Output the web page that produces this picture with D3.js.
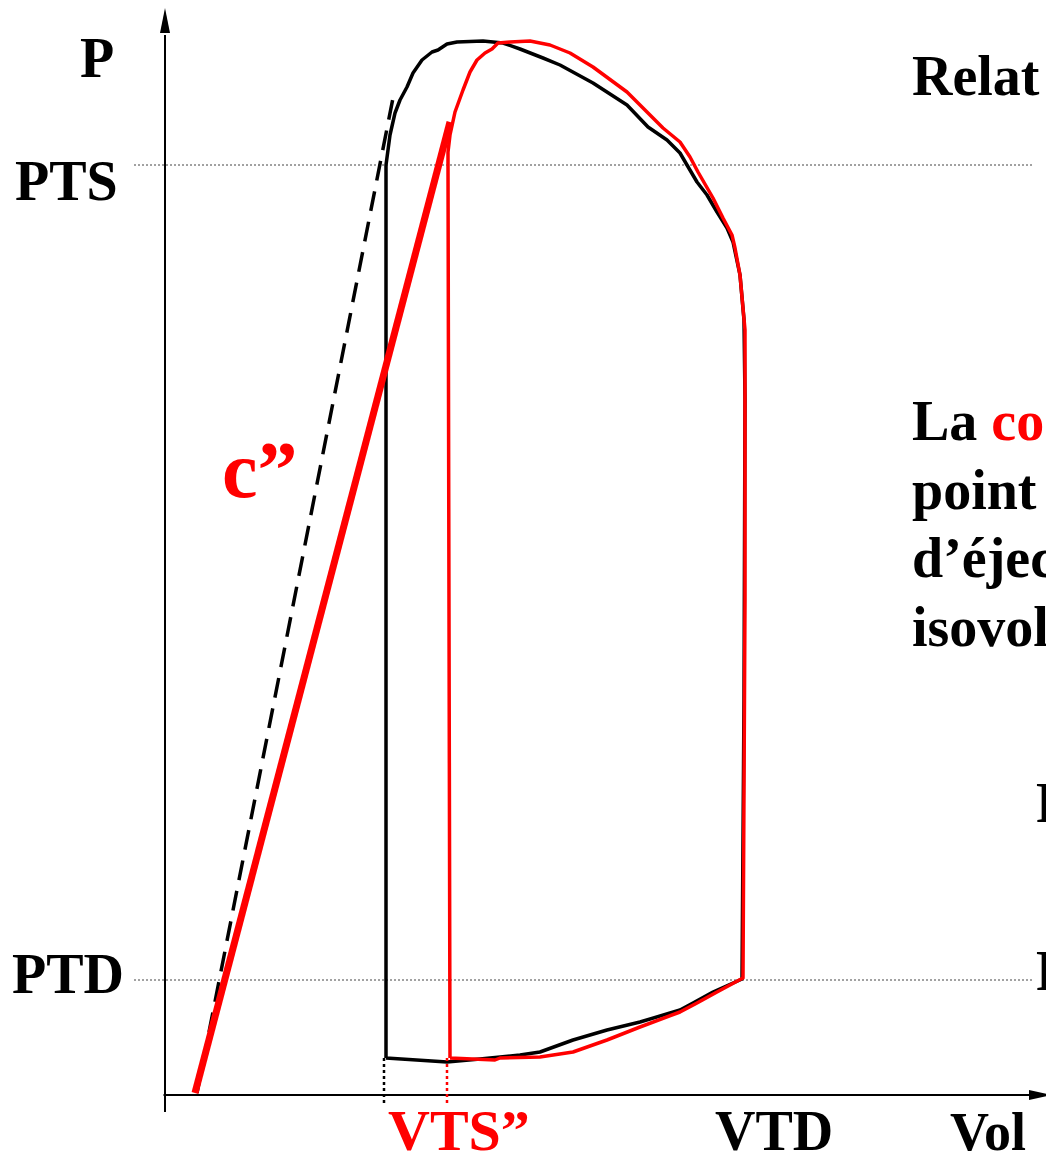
<!DOCTYPE html>
<html>
<head>
<meta charset="utf-8">
<script src="https://cdn.jsdelivr.net/npm/d3@7"></script>
<style>
  body { margin: 0; background: #fff; }
  text { font-family: "Liberation Serif", "Times New Roman", serif; font-weight: bold; }
</style>
</head>
<body>
<div id="graph"></div>
<script>
    var width = 1046,
        height = 1156;

    // loop before (black) : [volume, pressure]
    var loopBase = [
        [44.2, 3.7], [44.2, 93.0], [45.0, 96.0], [46.0, 98.2], [47.0, 99.5], [48.4, 100.8],
        [49.6, 102.2], [51.4, 103.5], [53.4, 104.3], [54.6, 104.5], [56.4, 105.1], [58.4, 105.3],
        [63.6, 105.4], [67.6, 105.2], [71.0, 104.6], [75.6, 103.7], [79.0, 103.0], [85.6, 101.2],
        [92.4, 99.0], [96.6, 96.8], [100.4, 95.5], [103.0, 94.2], [104.4, 93.0], [106.4, 91.3],
        [108.4, 90.0], [110.4, 88.3], [112.4, 86.7], [113.6, 85.3], [115.0, 82.0], [115.8, 77.5],
        [116.0, 69.5], [115.8, 39.5], [115.4, 11.6], [109.6, 10.3], [105.6, 9.2], [103.0, 8.5],
        [95.0, 7.3], [88.4, 6.5], [81.6, 5.5], [75.0, 4.3], [71.0, 4.0], [63.0, 3.6],
        [56.4, 3.3], [44.2, 3.7]
    ];

    // loop after (red)
    var loopNew = [
        [57.0, 3.7], [56.6, 93.0], [56.6, 94.3], [57.0, 96.0], [58.0, 98.3], [59.6, 100.5],
        [61.0, 102.3], [62.4, 103.5], [64.0, 104.2], [65.4, 104.6], [66.6, 105.2], [69.0, 105.3],
        [73.0, 105.4], [77.0, 105.0], [81.0, 104.2], [85.6, 102.8], [92.4, 100.3], [96.4, 98.3],
        [99.6, 96.7], [103.0, 95.3], [105.0, 93.8], [106.6, 92.3], [109.6, 89.7], [111.6, 87.7],
        [113.4, 86.0], [114.0, 84.7], [115.0, 82.0], [116.0, 76.5], [116.0, 49.5], [115.6, 11.7],
        [110.4, 10.3], [106.4, 9.2], [103.0, 8.3], [95.0, 6.8], [88.4, 5.5], [81.6, 4.3],
        [75.0, 3.8], [67.0, 3.7], [66.0, 3.5], [57.0, 3.7]
    ];

    var elastanceOld = [[6.4, 0.2], [45.6, 99.7]],   // dashed
        elastanceNew = [[6.0, 0.2], [57.0, 97.3]];   // c''

    var pts = 93.0, ptd = 11.5,
        vtsOld = 43.8, vtsNew = 56.4;

    var yLabels = [{ t: "P", p: 101.8, x: 80 }, { t: "PTS", p: 89.5, x: 15 }, { t: "PTD", p: 10.2, x: 12 }];
    var xLabels = [{ t: "VTS\u201D", v: 44.6, c: "red", s: 58 }, { t: "VTD", v: 110, c: "#000", s: 56 }, { t: "Vol", v: 157, c: "#000", s: 54 }];
    var sideLines = ["La ", "point", "d\u2019\u00e9jec", "isovol"];

    var x = d3.scaleLinear().domain([0, 176]).range([165, 1045]),
        y = d3.scaleLinear().domain([0, 108]).range([1095, 15]);

    var svg = d3.select("#graph").append("svg")
        .attr("width", width)
        .attr("height", height);

    svg.append("rect").attr("width", width).attr("height", height).attr("fill", "#fff");

    var line = d3.line()
        .x(function (d) { return x(d[0]); })
        .y(function (d) { return y(d[1]); });

    // dotted reference levels
    [pts, ptd].forEach(function (p) {
        svg.append("line")
            .attr("x1", 134).attr("x2", 1033)
            .attr("y1", y(p)).attr("y2", y(p))
            .style("stroke", "#444")
            .style("stroke-width", 1)
            .style("stroke-dasharray", "2,2");
    });

    // axes with arrow heads
    svg.append("line")
        .attr("x1", x(0)).attr("x2", x(0))
        .attr("y1", y(-1.7)).attr("y2", y(106))
        .style("stroke", "#000").style("stroke-width", 2);
    svg.append("path")
        .attr("d", "M" + x(0) + "," + y(108.7) + "l-5,25h10z")
        .attr("fill", "#000");
    svg.append("line")
        .attr("x1", x(-0.3)).attr("x2", x(174))
        .attr("y1", y(0)).attr("y2", y(0))
        .style("stroke", "#000").style("stroke-width", 2);
    svg.append("path")
        .attr("d", "M" + (x(176) + 6) + "," + y(0) + "l-22,-5v10z")
        .attr("fill", "#000");

    // dashed old elastance
    svg.append("path")
        .attr("d", line(elastanceOld))
        .attr("fill", "none")
        .style("stroke", "#000")
        .style("stroke-width", 3.5)
        .style("stroke-dasharray", "20,11");

    svg.append("path")
        .attr("d", line(loopBase))
        .attr("fill", "none")
        .style("stroke", "#000")
        .style("stroke-width", 3.5)
        .style("stroke-linejoin", "round");

    svg.append("path")
        .attr("d", line(loopNew))
        .attr("fill", "none")
        .style("stroke", "red")
        .style("stroke-width", 3.5)
        .style("stroke-linejoin", "round");

    svg.append("path")
        .attr("d", line(elastanceNew))
        .attr("fill", "none")
        .style("stroke", "red")
        .style("stroke-width", 7);

    // end systolic volume markers
    [[vtsOld, "#000"], [vtsNew, "red"]].forEach(function (m) {
        svg.append("line")
            .attr("x1", x(m[0])).attr("x2", x(m[0]))
            .attr("y1", y(3.7)).attr("y2", y(-0.8))
            .style("stroke", m[1])
            .style("stroke-width", 2.5)
            .style("stroke-dasharray", "3,3");
    });

    // labels
    yLabels.forEach(function (l) {
        svg.append("text")
            .attr("x", l.x).attr("y", y(l.p))
            .style("font-size", "56px")
            .text(l.t);
    });

    xLabels.forEach(function (l) {
        svg.append("text")
            .attr("x", x(l.v)).attr("y", 1150)
            .style("font-size", l.s + "px")
            .attr("fill", l.c)
            .text(l.t);
    });

    svg.append("text")
        .attr("x", 222).attr("y", y(59.8))
        .style("font-size", "80px")
        .attr("fill", "red")
        .text("c\u201D");

    // text block on the right, cut by the frame
    svg.append("text")
        .attr("x", 912).attr("y", 95)
        .style("font-size", "56px")
        .text("Relat");

    sideLines.forEach(function (s, i) {
        var t = svg.append("text")
            .attr("x", 912).attr("y", 440 + i * 68.5)
            .style("font-size", "56px")
            .text(s);
        if (i == 0) t.append("tspan").attr("fill", "red").text("co");
    });

    [822, 990].forEach(function (b) {
        svg.append("text")
            .attr("x", 1036).attr("y", b)
            .style("font-size", "56px")
            .text("P");
    });
</script>
</body>
</html>
